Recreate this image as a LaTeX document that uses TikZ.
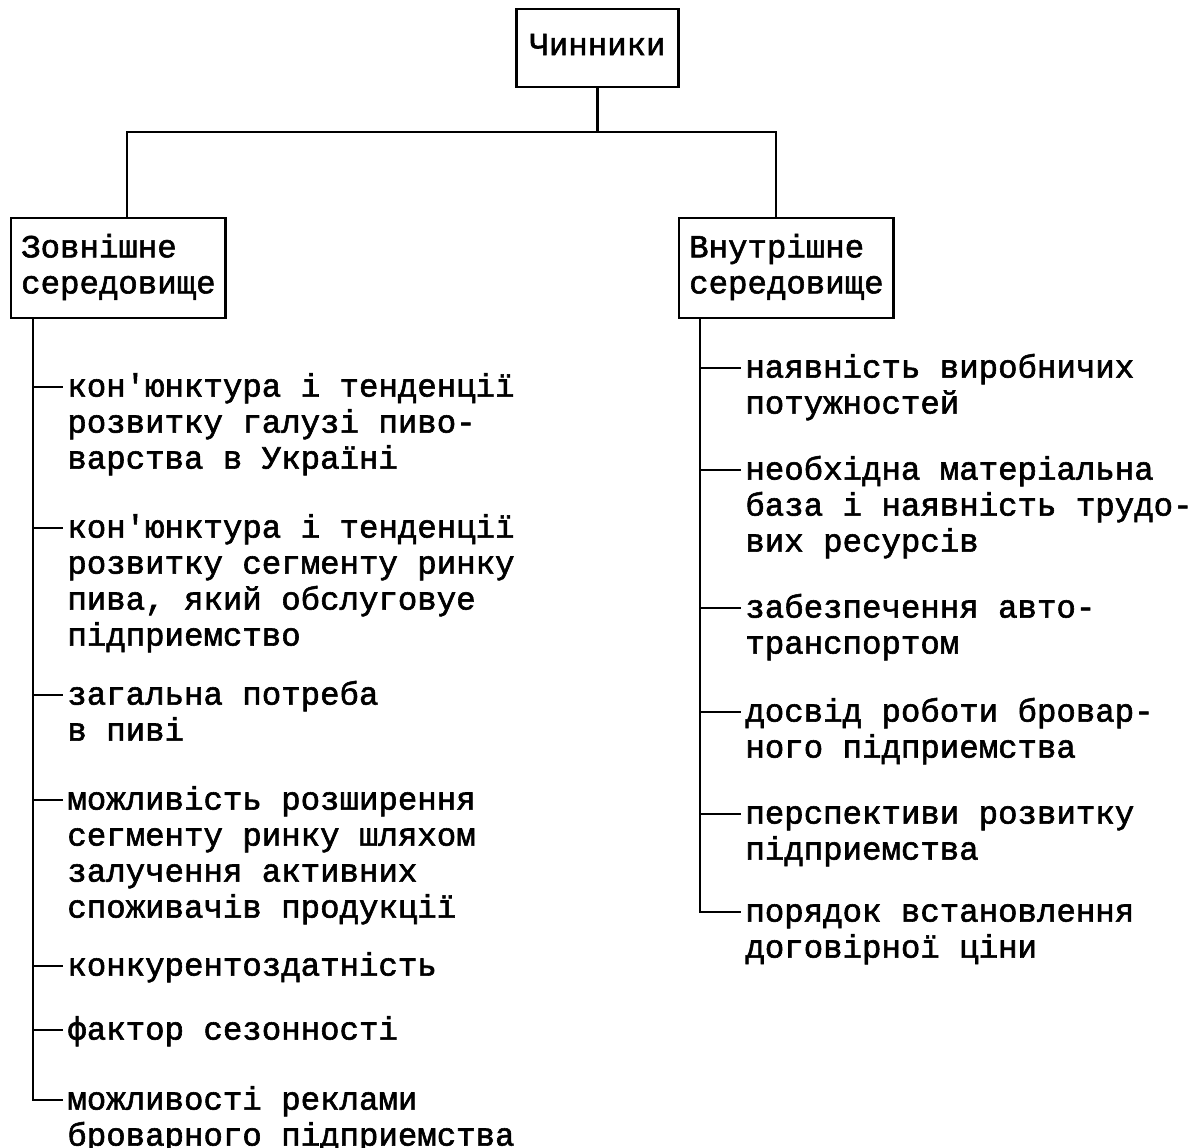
\documentclass[tikz,border=0pt]{standalone}
\usepackage{fontspec}
\newfontfamily\tw{Liberation Mono}[FakeBold=1.8, Ligatures=TeXOff]
\usetikzlibrary{calc}
\begin{document}
\begin{tikzpicture}[x=0.5pt,y=-0.5pt,
  every node/.style={font=\tw\fontsize{16.2pt}{18pt}\selectfont},
  box/.style={draw, line width=1.2pt, align=left, inner xsep=5pt, inner ysep=7pt},
  item/.style={align=left, inner sep=0pt, anchor=north west},
  conn/.style={line width=1.2pt}]
\useasboundingbox (0,0) rectangle (1197,1147);

% boxes
\node[box, inner xsep=6.5pt, inner ysep=10.5pt] (top) at (597.5,48) {\strut Чинники};
\node[box, anchor=north west] (lbox) at (10,217) {\strut Зовнішне\\середовище\strut};
\node[box, anchor=north west] (rbox) at (678,217) {\strut Внутрішне\\середовище\strut};

\coordinate (hl) at (127,132);
\coordinate (hr) at (776,132);
\draw[conn] (top.south) -- (top.south |- hl);
\draw[conn] (lbox.north -| hl) -- (hl) -- (hr) -- (rbox.north -| hr);

% left items
\node[item] (l1) at (67,371) {\strut кон'юнктура і тенденції\\розвитку галузі пиво-\\варства в Україні};
\node[item] (l2) at (67,512) {\strut кон'юнктура і тенденції\\розвитку сегменту ринку\\пива, який обслуговуе\\підприемство};
\node[item] (l3) at (67,679) {\strut загальна потреба\\в пиві};
\node[item] (l4) at (67,784) {\strut можливість розширення\\сегменту ринку шляхом\\залучення активних\\споживачів продукції};
\node[item] (l5) at (67,950) {\strut конкурентоздатність};
\node[item] (l6) at (67,1014) {\strut фактор сезонності};
\node[item] (l7) at (67,1084) {\strut можливості реклами\\броварного підприемства};

% right items
\node[item] (r1) at (745,352) {\strut наявність виробничих\\потужностей};
\node[item] (r2) at (745,454) {\strut необхідна матеріальна\\база і наявність трудо-\\вих ресурсів};
\node[item] (r3) at (745,592) {\strut забезпечення авто-\\транспортом};
\node[item] (r4) at (745,696) {\strut досвід роботи бровар-\\ного підприемства};
\node[item] (r5) at (745,798) {\strut перспективи розвитку\\підприемства};
\node[item] (r6) at (745,896) {\strut порядок встановлення\\договірної ціни};

\coordinate (ltr) at (33,0);
\coordinate (rtr) at (700,0);

\foreach \n in {l1,l2,l3,l4,l5,l6,l7,r1,r2,r3,r4,r5,r6}
  \coordinate (t\n) at ([shift={(-4,16)}]\n.north west);

\draw[conn] (lbox.south -| ltr) |- (tl7);
\foreach \n in {l1,l2,l3,l4,l5,l6}
  \draw[conn] (t\n -| ltr) -- (t\n);

\draw[conn] (rbox.south -| rtr) |- (tr6);
\foreach \n in {r1,r2,r3,r4,r5}
  \draw[conn] (t\n -| rtr) -- (t\n);
\end{tikzpicture}
\end{document}
